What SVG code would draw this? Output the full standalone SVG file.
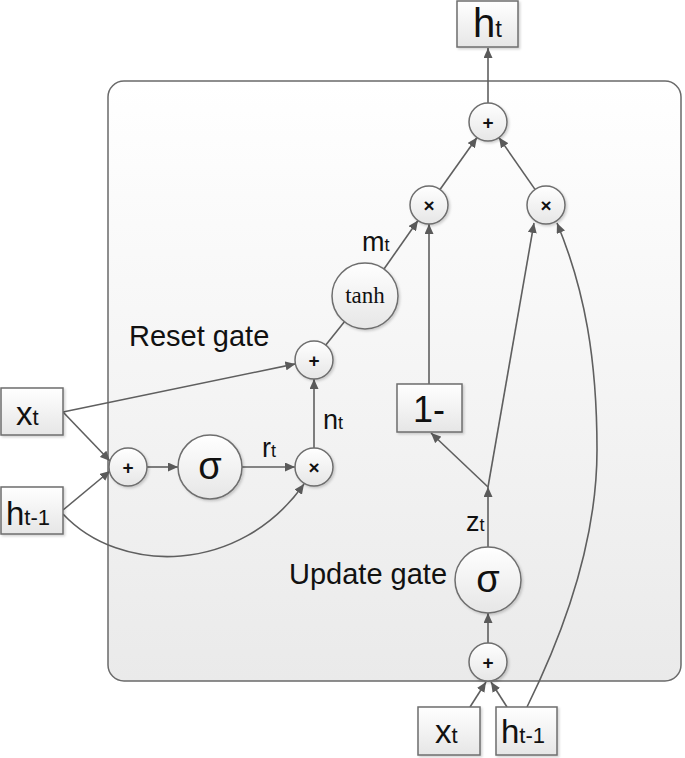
<svg xmlns="http://www.w3.org/2000/svg" width="685" height="758" viewBox="0 0 685 758">
<defs>
  <linearGradient id="gNode" x1="0" y1="0" x2="0" y2="1">
    <stop offset="0" stop-color="#ffffff"/>
    <stop offset="1" stop-color="#e6e6e6"/>
  </linearGradient>
  <linearGradient id="gBox" x1="0" y1="0" x2="0" y2="1">
    <stop offset="0" stop-color="#ffffff"/>
    <stop offset="1" stop-color="#eaeaea"/>
  </linearGradient>
  <filter id="sh" x="-20%" y="-20%" width="140%" height="140%">
    <feDropShadow dx="1.5" dy="1.5" stdDeviation="1" flood-color="#000" flood-opacity="0.18"/>
  </filter>
  <marker id="arr" markerUnits="userSpaceOnUse" markerWidth="11" markerHeight="9" refX="10" refY="4.5" orient="auto">
    <path d="M0,0 L10,4.5 L0,9 z" fill="#5a5a5a"/>
  </marker>
  <style>
    .c{fill:url(#gNode);stroke:#6e6e6e;stroke-width:1.5;filter:url(#sh)}
    .b{fill:url(#gNode);stroke:#6e6e6e;stroke-width:1.5;filter:url(#sh)}
    .ln{fill:none;stroke:#5f5f5f;stroke-width:1.6}
    .a{marker-end:url(#arr)}
    .op{font-family:"Liberation Sans",Arial,sans-serif;font-size:19px;font-weight:bold;fill:#111;text-anchor:middle}
    .sg{font-family:"Liberation Sans",Arial,sans-serif;font-size:38px;fill:#111;text-anchor:middle}
    .big{font-family:"Liberation Sans",Arial,sans-serif;fill:#111}
    .lab{font-family:"Liberation Sans",Arial,sans-serif;font-size:27px;fill:#111}
    .gate{font-family:"Liberation Sans",Arial,sans-serif;font-size:29px;fill:#111}
    .tn{font-family:"Liberation Serif","Times New Roman",serif;font-size:23px;fill:#111;text-anchor:middle}
  </style>
</defs>
<rect id="cell" x="108" y="81" width="573" height="600" rx="16" fill="url(#gBox)" stroke="#6a6a6a" stroke-width="1.5"/>
<text class="gate" x="129" y="346">Reset gate</text>
<text class="gate" x="289" y="584">Update gate</text>
<g id="connectors">
  <line class="ln a" x1="488" y1="103" x2="488" y2="48"/>
  <line class="ln a" x1="440" y1="189.5" x2="477" y2="137.5"/>
  <line class="ln a" x1="535" y1="189.4" x2="499" y2="137.6"/>
  <line class="ln a" x1="384" y1="269" x2="418" y2="220.5"/>
  <line class="ln" x1="325.8" y1="345.1" x2="344.4" y2="321.8"/>
  <line class="ln a" x1="429" y1="384" x2="429" y2="224"/>
  <line class="ln a" x1="314" y1="448" x2="314" y2="379"/>
  <line class="ln a" x1="63" y1="412" x2="295.4" y2="363.9"/>
  <line class="ln a" x1="63" y1="412" x2="110" y2="461"/>
  <line class="ln a" x1="63" y1="510" x2="110" y2="471"/>
  <line class="ln a" x1="147" y1="467" x2="178" y2="467"/>
  <line class="ln a" x1="242" y1="467" x2="295" y2="467"/>
  <path class="ln a" d="M63,514 C120,575 240,575 304,484"/>
  <line class="ln a" x1="488" y1="643" x2="488" y2="613"/>
  <line class="ln a" x1="488" y1="547" x2="488" y2="487"/>
  <line class="ln a" x1="488" y1="487" x2="431" y2="433"/>
  <line class="ln a" x1="488" y1="487" x2="534" y2="223"/>
  <line class="ln a" x1="470" y1="707" x2="486" y2="682"/>
  <line class="ln a" x1="507" y1="707" x2="491" y2="682"/>
  <path class="ln a" d="M527,707 C565,630 597,540 597,450 C597,360 585,290 557,223"/>
</g>
<g id="h_t_out">
  <rect class="b" x="457" y="1" width="61" height="46"/>
  <text class="big" x="473" y="37" style="font-size:40px">h<tspan style="font-size:24px">t</tspan></text>
</g>
<g id="add_out">
  <circle class="c" cx="488" cy="122" r="19"/>
  <text class="op" x="488" y="128.5">+</text>
</g>
<g id="mul_left">
  <circle class="c" cx="429" cy="205" r="19"/>
  <text class="op" x="429" y="211.5">×</text>
</g>
<g id="mul_right">
  <circle class="c" cx="546" cy="205" r="19"/>
  <text class="op" x="546" y="211.5">×</text>
</g>
<g id="tanh">
  <circle class="c" cx="365" cy="296" r="33"/>
  <text class="tn" x="365" y="303">tanh</text>
</g>
<g id="add_reset">
  <circle class="c" cx="314" cy="360" r="19"/>
  <text class="op" x="314" y="366.5">+</text>
</g>
<g id="mul_reset">
  <circle class="c" cx="314" cy="467" r="19"/>
  <text class="op" x="314" y="473.5">×</text>
</g>
<g id="sigma_reset">
  <circle class="c" cx="210" cy="467" r="32"/>
  <text class="sg" x="210" y="479">σ</text>
</g>
<g id="add_in">
  <circle class="c" cx="128" cy="467" r="19"/>
  <text class="op" x="128" y="473.5">+</text>
</g>
<g id="one_minus">
  <rect class="b" x="397" y="384" width="65" height="48"/>
  <text class="big" x="413" y="422" style="font-size:36px">1-</text>
</g>
<g id="sigma_update">
  <circle class="c" cx="488" cy="580" r="33"/>
  <text class="sg" x="488" y="592">σ</text>
</g>
<g id="add_update">
  <circle class="c" cx="488" cy="662" r="19"/>
  <text class="op" x="488" y="668.5">+</text>
</g>
<g id="x_t_left">
  <rect class="b" x="1" y="388" width="62" height="47"/>
  <text class="big" x="16" y="425" style="font-size:33px">x<tspan style="font-size:22px">t</tspan></text>
</g>
<g id="h_prev_left">
  <rect class="b" x="1" y="487" width="62" height="47"/>
  <text class="big" x="6" y="525" style="font-size:33px">h<tspan style="font-size:22px">t-1</tspan></text>
</g>
<g id="x_t_bottom">
  <rect class="b" x="418" y="707" width="62" height="48"/>
  <text class="big" x="435" y="743" style="font-size:33px">x<tspan style="font-size:22px">t</tspan></text>
</g>
<g id="h_prev_bottom">
  <rect class="b" x="496" y="707" width="61" height="48"/>
  <text class="big" x="501" y="743" style="font-size:33px">h<tspan style="font-size:22px">t-1</tspan></text>
</g>
<g id="labels">
  <text class="lab" x="362" y="251">m<tspan style="font-size:18px">t</tspan></text>
  <text class="lab" x="323" y="429">n<tspan style="font-size:18px">t</tspan></text>
  <text class="lab" x="262" y="457">r<tspan style="font-size:18px">t</tspan></text>
  <text class="lab" x="466" y="531">z<tspan style="font-size:18px">t</tspan></text>
</g>
</svg>
